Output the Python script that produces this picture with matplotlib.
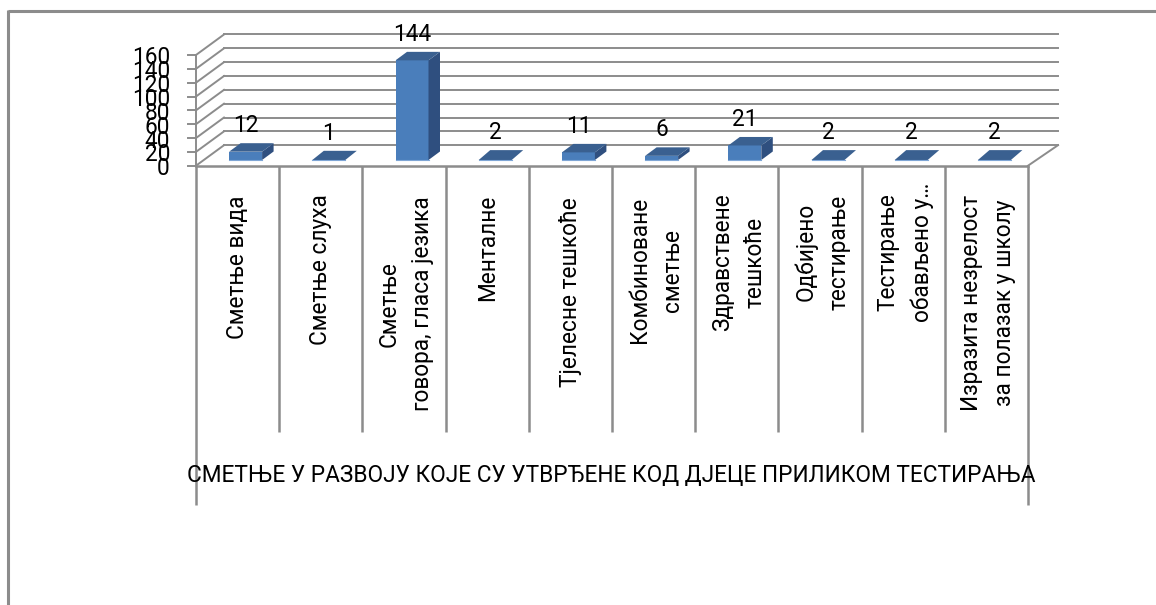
import matplotlib
matplotlib.use("Agg")
import matplotlib.pyplot as plt
from matplotlib.patches import Polygon

plt.rcParams['font.family'] = ['Roboto', 'DejaVu Sans']

categories = ['Сметње вида', 'Сметње слуха', 'Сметње\nговора, гласа језика', 'Менталне',
              'Тјелесне тешкоће', 'Комбиноване\nсметње', 'Здравствене\nтешкоће',
              'Одбијено\nтестирање', 'Тестирање\nобављено у…', 'Изразита незрелост\nза полазак у школу']
values = [12, 1, 144, 2, 11, 6, 21, 2, 2, 2]
y_ticks = [0, 20, 40, 60, 80, 100, 120, 140, 160]
axis_title = 'СМЕТЊЕ У РАЗВОЈУ КОЈЕ СУ УТВРЂЕНЕ КОД ДЈЕЦЕ ПРИЛИКОМ ТЕСТИРАЊА'

# layout in pixels of the image
W, H = 1156, 605
x0, x1 = 196, 1028
y0 = 165.7
px_per_unit = 0.692
depth_x, depth_y = 28, -20.5
cat_w = (x1 - x0) / len(categories)
bar_w = 33
label_mid = [267, 270, 304, 248, 292, 270, 262, 252, 252, 303]
GREY = '#8c8c8c'
FS = 16.3


def vy(v):
    return y0 - v * px_per_unit


fig = plt.figure(figsize=(W / 100, H / 100), dpi=100)
ax = fig.add_axes([0, 0, 1, 1])
ax.set_xlim(0, W)
ax.set_ylim(H, 0)
ax.axis('off')

# outer frame (top and left only)
ax.plot([7.5, W], [11, 11], color=GREY, lw=2.2, solid_capstyle='butt')
ax.plot([7.5, 7.5], [10, H], color=GREY, lw=2.2, solid_capstyle='butt')

# walls
for t in y_ticks:
    y = vy(t)
    ax.plot([x0 - 8, x0], [y, y], color=GREY, lw=1.4)
    ax.plot([x0, x0 + depth_x], [y, y + depth_y], color=GREY, lw=1.4)
    ax.plot([x0 + depth_x, x1 + 30], [y + depth_y, y + depth_y], color=GREY, lw=1.4)
    ax.text(170, y + 3, str(t), ha='right', va='center', fontsize=FS, color='black')
ax.plot([x0, x0], [vy(y_ticks[-1]), y0], color=GREY, lw=1.4)
ax.plot([x0, x1], [y0, y0], color=GREY, lw=1.8)
ax.plot([x1, x1 + 30], [y0, y0 + depth_y], color=GREY, lw=1.4)

# category separators
for i in range(len(categories) + 1):
    x = x0 + i * cat_w
    bottom = 505 if i in (0, len(categories)) else 432
    ax.plot([x, x], [y0, bottom], color=GREY, lw=1.8, solid_capstyle='butt')

# bars
for i, v in enumerate(values):
    left = x0 + (i + 0.5) * cat_w + 8 - bar_w / 2
    right = left + bar_w
    base = y0 - 5.7
    top = base - v * px_per_unit
    dx, dy = 11.5, -8.5
    if v > 2:
        ax.add_patch(Polygon([(left, base), (right, base), (right, top), (left, top)],
                             fc='#4a7ebb', ec='none', zorder=3))
        ax.add_patch(Polygon([(right, base), (right + dx, base + dy), (right + dx, top + dy), (right, top)],
                             fc='#2f4f7f', ec='none', zorder=3))
    else:
        # too flat to show a front, only the lid is visible
        top = base
        dy = -8.5 - v * px_per_unit
    ax.add_patch(Polygon([(left, top), (right, top), (right + dx, top + dy), (left + dx, top + dy)],
                         fc='#3a6090', ec='none', zorder=3))
    ax.plot([left, right], [base, base], color='#7fa6d6', lw=0.8, zorder=3)
    ax.text((left + right) / 2, 133.8 - v * px_per_unit, str(v), ha='center', va='center',
            fontsize=FS, color='black', zorder=4)

# category labels
for i, name in enumerate(categories):
    x = x0 + (i + 0.5) * cat_w
    if '\n' in name:
        x += 2
    ax.text(x, label_mid[i], name, rotation=90, ha='center', va='center', ma='center',
            fontsize=FS, linespacing=1.55, color='black')

ax.text(611, 476, axis_title, ha='center', va='center', fontsize=FS, color='black')

fig.savefig('out.png', dpi=100)
